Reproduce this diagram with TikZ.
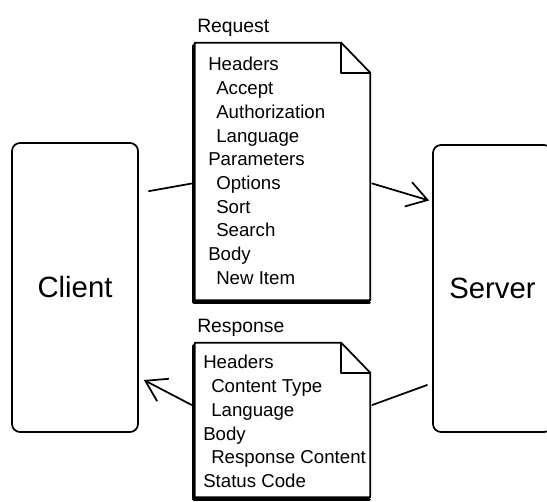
\documentclass[tikz,border=0pt]{standalone}
\usepackage{fontspec}
\setmainfont{Liberation Sans}
\usetikzlibrary{arrows.meta,calc,positioning}

\begin{document}
\begin{tikzpicture}[x=0.75pt, y=-0.75pt, line cap=round, line join=round,
	box/.style={draw, line width=1.3pt, rounded corners=6pt, inner sep=0pt, font=\fontsize{22}{26}\selectfont},
	doc/.style={inner sep=0pt, minimum width=131.25pt},
	doctext/.style={anchor=north west, inner sep=0pt, align=left, font=\fontsize{14}{17.8}\selectfont},
	title/.style={anchor=base west, inner sep=0pt, font=\fontsize{14.5}{16}\selectfont},
	link/.style={line width=1.3pt},
	arrow/.style={link, -{Straight Barb[length=15pt, width=19pt, line width=1.3pt]}}]
		\useasboundingbox (0,0) rectangle (547,501);
		\clip (0,0) rectangle (547,501);
		
		% client and server
		\node[box, minimum width=94.5pt, minimum height=216.75pt] (client) at (75,287.5) {Client};
		\node[box, minimum width=89.25pt, minimum height=215.25pt] (server) at (492.5,288.5) {Server};
		
		% documents
		\node[doc, minimum height=192.75pt] (req) at (282.5,171.5) {};
		\node[doc, minimum height=115.5pt] (resp) at (282.5,420) {};
		\foreach \d in {req,resp} {
			\draw[link, fill=white] (\d.north west) -- ($(\d.north east)+(-29,0)$) -- ($(\d.north east)+(0,30)$)
				-- (\d.south east) -- (\d.south west) -- cycle;
			\draw[link] ($(\d.north east)+(-29,0)$) |- ($(\d.north east)+(0,30)$);
			\draw[line width=2.6pt] ($(\d.north west)+(-1.5,3)$) |- ($(\d.south east)+(-1,2)$);
		}
		
		\node[title] (reqtitle) at (197,32) {Request};
		\node[title] (resptitle) at (197,332) {Response};
		
		\node[doctext] (reqtext) at (208,57) {Headers\\
			\hspace*{6pt}Accept\\
			\hspace*{6pt}Authorization\\
			\hspace*{6pt}Language\\
			Parameters\\
			\hspace*{6pt}Options\\
			\hspace*{6pt}Sort\\
			\hspace*{6pt}Search\\
			Body\\
			\hspace*{6pt}New Item};
		\node[doctext] (resptext) at (203,355) {Headers\\
			\hspace*{6pt}Content Type\\
			\hspace*{6pt}Language\\
			Body\\
			\hspace*{6pt}Response Content\\
			Status Code};
		
		% connectors
		\draw[link] ($(client.north east)+(10,49)$) -- ($(req.west)+(-3,12)$);
		\draw[arrow] ($(req.east)+(2,12)$) -- ($(server.west)+(-3,-88)$);
		\draw[link] ($(server.west)+(-5,96.5)$) -- ($(resp.east)+(2,-15)$);
		\draw[arrow] ($(resp.west)+(-3,-15)$) -- ($(client.east)+(5,92.5)$);
	\end{tikzpicture}
\end{document}
